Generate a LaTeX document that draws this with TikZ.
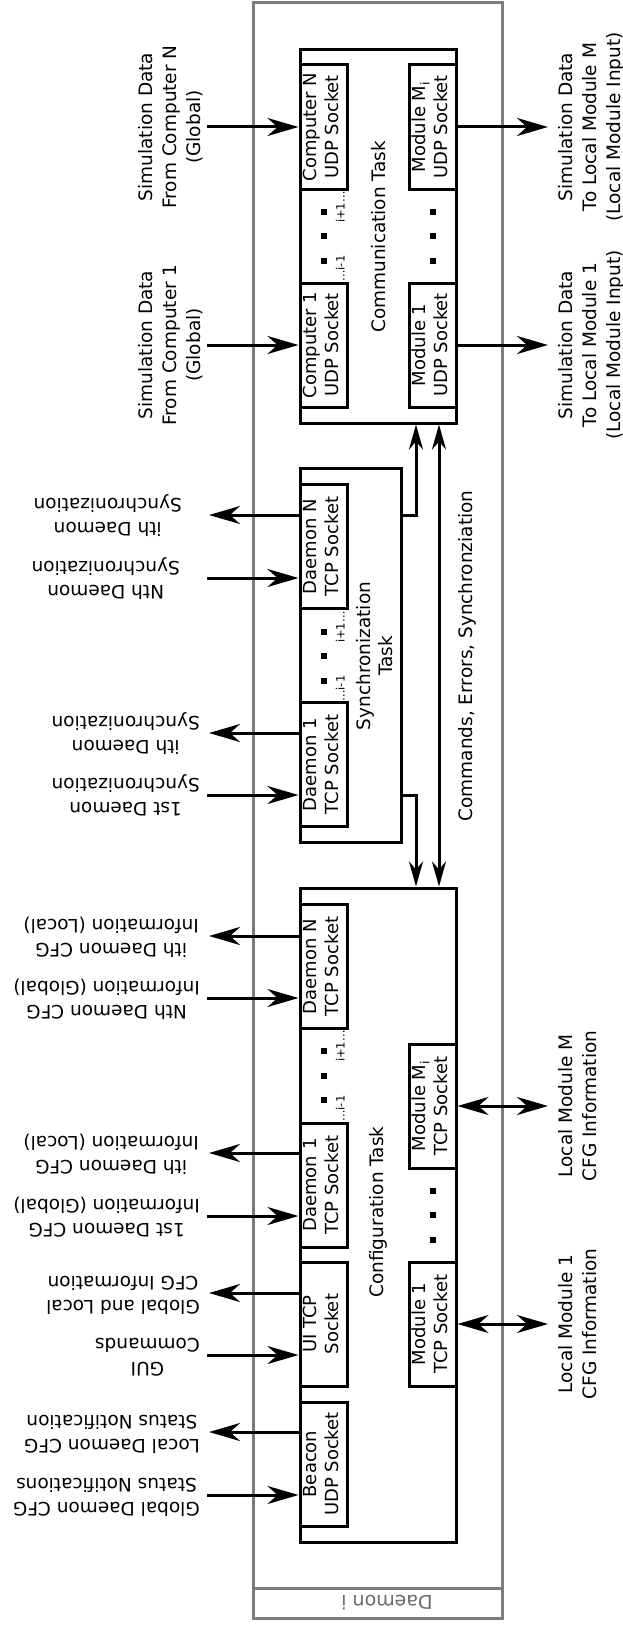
\documentclass[tikz,border=0pt]{standalone}
\usepackage{fontspec}
\setmainfont{DejaVu Sans}
\usetikzlibrary{arrows.meta}
% text turned to read bottom-to-top, and text turned upside down
\newcommand{\upr}[1]{\rotatebox{90}{\begin{tabular}{@{}c@{}}#1\end{tabular}}}
\newcommand{\flip}[1]{\rotatebox{180}{\begin{tabular}{@{}c@{}}#1\end{tabular}}}
\definecolor{frame}{RGB}{125,125,125}
\begin{document}
\begin{tikzpicture}[x=1pt,y=-1pt,
  taskbox/.style={draw, line width=3pt, inner sep=0pt},
  sock/.style={draw, line width=3pt, inner sep=0pt, minimum width=47pt, minimum height=124pt,
    font=\fontsize{18}{22}\selectfont},
  lbl/.style={inner sep=0pt, font=\fontsize{18.5}{24}\selectfont},
  ttl/.style={inner sep=0pt, font=\fontsize{18.5}{22}\selectfont},
  tiny/.style={inner sep=0pt, font=\fontsize{11.5}{13}\selectfont},
  dot/.style={fill, inner sep=0pt, minimum size=6pt},
  harr/.style={line width=3pt, -{Stealth[length=31pt,width=18pt,inset=10pt]}},
  hbi/.style={line width=3pt, {Stealth[length=31pt,width=18pt,inset=10pt]}-{Stealth[length=31pt,width=18pt,inset=10pt]}},
  varr/.style={line width=3pt, -{Stealth[length=25pt,width=14pt,inset=8pt]}},
  vbi/.style={line width=3pt, {Stealth[length=25pt,width=14pt,inset=8pt]}-{Stealth[length=25pt,width=14pt,inset=8pt]}}
]
\useasboundingbox (0,0) rectangle (623,1627);

% daemon frame
\node[draw=frame, line width=3pt, inner sep=0pt, minimum width=249pt, minimum height=1615pt] (daemon) at (377.5,810.5) {};
\coordinate (dsplit) at (0,1588);
\draw[frame, line width=3pt] (daemon.west |- dsplit) -- (daemon.east |- dsplit);
\node[inner sep=0pt, text=frame!85!black, font=\fontsize{19}{22}\selectfont] (dname) at (387,1603) {\rotatebox{180}{Daemon i}};

% ---------------- communication task ----------------
\node[taskbox, minimum width=156pt, minimum height=373pt] (comm) at (378,236.5) {};
\node[sock] (cN) at (323.5,127) {\upr{Computer N\\UDP Socket}};
\node[sock] (c1) at (323.5,345) {\upr{Computer 1\\UDP Socket}};
\node[sock] (mM) at (432.5,127) {\upr{Module M\textsubscript{i}\\UDP Socket}};
\node[sock] (m1) at (432.5,345) {\upr{Module 1\\UDP Socket}};
\node[ttl] (commT) at (381,237) {\upr{Communication Task}};
\foreach \d [count=\k] in {-24.5,0,24.5} {
  \node[dot] (cdl\k) at (323.5,236+\d) {};
  \node[dot] (cdr\k) at (432.5,236+\d) {};
}
\node[tiny, anchor=north] (cip) at (342,191) {\upr{i+1…}};
\node[tiny, anchor=south] (cim) at (342,282) {\upr{…i-1}};

\node[lbl] (lcN) at (172,127) {\upr{Simulation Data\\From Computer N\\(Global)}};
\node[lbl] (lc1) at (172,345) {\upr{Simulation Data\\From Computer 1\\(Global)}};
\node[lbl] (lmM) at (592,127) {\upr{Simulation Data\\To Local Module M\\(Local Module Input)}};
\node[lbl] (lm1) at (592,345) {\upr{Simulation Data\\To Local Module 1\\(Local Module Input)}};

\coordinate (ecN) at (207,127);
\coordinate (ec1) at (207,345);
\coordinate (emM) at (548,127);
\coordinate (em1) at (548,345);
\draw[harr] (ecN) -- (ecN -| cN.west);
\draw[harr] (ec1) -- (ec1 -| c1.west);
\draw[harr] (emM -| mM.east) -- (emM);
\draw[harr] (em1 -| m1.east) -- (em1);

% ---------------- synchronization task ----------------
\node[taskbox, minimum width=101pt, minimum height=374pt] (sync) at (350.5,655) {};
\node[sock] (sN) at (323.5,546.5) {\upr{Daemon N\\TCP Socket}};
\node[sock] (s1) at (323.5,764.5) {\upr{Daemon 1\\TCP Socket}};
\node[ttl] (syncT) at (377.5,656) {\upr{Synchronization\\Task}};
\foreach \d [count=\k] in {-24.5,0,24.5} {
  \node[dot] (sd\k) at (323.5,656+\d) {};
}
\node[tiny, anchor=north] (sip) at (342,611) {\upr{i+1…}};
\node[tiny, anchor=south] (sim) at (342,702) {\upr{…i-1}};

\node[lbl, anchor=east] (lsNo) at (182,515) {\flip{ith Daemon\\Synchronization}};
\node[lbl, anchor=east] (lsNi) at (180,578) {\flip{Nth Daemon\\Synchronization}};
\node[lbl, anchor=east] (ls1o) at (200,733) {\flip{ith Daemon\\Synchronization}};
\node[lbl, anchor=east] (ls1i) at (200,795) {\flip{1st Daemon\\Synchronization}};

\coordinate (esNo) at (209,515);
\coordinate (esNi) at (207,578);
\coordinate (es1o) at (209,733);
\coordinate (es1i) at (207,795);
\draw[harr] (esNo -| sN.west) -- (esNo);
\draw[harr] (esNi) -- (esNi -| sN.west);
\draw[harr] (es1o -| s1.west) -- (es1o);
\draw[harr] (es1i) -- (es1i -| s1.west);

% ---------------- configuration task ----------------
\node[taskbox, minimum width=156pt, minimum height=654pt] (conf) at (378,1215) {};
\node[sock] (fN) at (323.5,966.5) {\upr{Daemon N\\TCP Socket}};
\node[sock] (f1) at (323.5,1185) {\upr{Daemon 1\\TCP Socket}};
\node[sock] (fui) at (323.5,1324) {\upr{UI TCP\\Socket}};
\node[sock] (fb) at (323.5,1464) {\upr{Beacon\\UDP Socket}};
\node[sock] (fmM) at (432.5,1106) {\upr{Module M\textsubscript{i}\\TCP Socket}};
\node[sock] (fm1) at (432.5,1324) {\upr{Module 1\\TCP Socket}};
\node[ttl] (confT) at (379,1212) {\upr{Configuration Task}};
\foreach \d [count=\k] in {-24.5,0,24.5} {
  \node[dot] (fdl\k) at (323.5,1075.5+\d) {};
  \node[dot] (fdr\k) at (432.5,1215+\d) {};
}
\node[tiny, anchor=north] (fip) at (342,1030) {\upr{i+1…}};
\node[tiny, anchor=south] (fim) at (342,1122) {\upr{…i-1}};

\node[lbl, anchor=east] (lfNo) at (199,936) {\flip{ith Daemon CFG\\Information (Local)}};
\node[lbl, anchor=east] (lfNi) at (200,998) {\flip{Nth Daemon CFG\\Information (Global)}};
\node[lbl, anchor=east] (lf1o) at (199,1153) {\flip{ith Daemon CFG\\Information (Local)}};
\node[lbl, anchor=east] (lf1i) at (200,1216) {\flip{1st Daemon CFG\\Information (Global)}};
\node[lbl, anchor=east] (luio) at (200,1293) {\flip{Global and Local\\CFG Information}};
\node[lbl, anchor=east] (luii) at (200,1355) {\flip{GUI\\Commands}};
\node[lbl, anchor=east] (lbo) at (200,1432) {\flip{Local Daemon CFG\\Status Notification}};
\node[lbl, anchor=east] (lbi) at (200,1495) {\flip{Global Daemon CFG\\Status Notifications}};
\node[lbl] (lfmM) at (580,1106) {\upr{Local Module M\\CFG Information}};
\node[lbl] (lfm1) at (580,1324) {\upr{Local Module 1\\CFG Information}};

\coordinate (efNo) at (209,936);
\coordinate (efNi) at (207,998);
\coordinate (ef1o) at (209,1153);
\coordinate (ef1i) at (207,1216);
\coordinate (euio) at (209,1293);
\coordinate (euii) at (207,1355);
\coordinate (ebo) at (209,1432);
\coordinate (ebi) at (207,1495);
\coordinate (efmM) at (548,1106);
\coordinate (efm1) at (548,1324);
\draw[harr] (efNo -| fN.west) -- (efNo);
\draw[harr] (efNi) -- (efNi -| fN.west);
\draw[harr] (ef1o -| f1.west) -- (ef1o);
\draw[harr] (ef1i) -- (ef1i -| f1.west);
\draw[harr] (euio -| fui.west) -- (euio);
\draw[harr] (euii) -- (euii -| fui.west);
\draw[harr] (ebo -| fb.west) -- (ebo);
\draw[harr] (ebi) -- (ebi -| fb.west);
\draw[hbi] (efmM -| fmM.east) -- (efmM);
\draw[hbi] (efm1 -| fm1.east) -- (efm1);

% ---------------- links between the tasks ----------------
\coordinate (k1) at (416,515);
\coordinate (k2) at (416,795);
\coordinate (k3) at (439,656);
\draw[varr] (sync.east |- k1) -- (k1) -- (k1 |- comm.south);
\draw[varr] (sync.east |- k2) -- (k2) -- (k2 |- conf.north);
\draw[vbi] (k3 |- comm.south) -- (k3 |- conf.north);
\node[ttl] (linkT) at (468,656) {\upr{Commands, Errors, Synchronziation}};
\end{tikzpicture}
\end{document}
